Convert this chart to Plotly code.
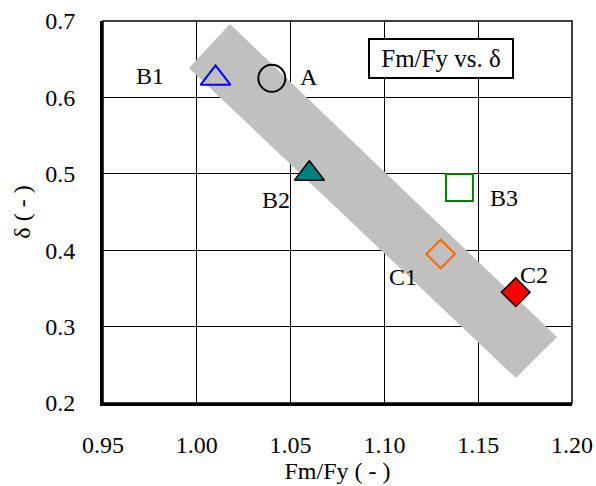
import plotly.graph_objects as go

# Data
names = ["B1", "A", "B2", "B3", "C1", "C2"]
fm_fy = [1.01, 1.04, 1.06, 1.14, 1.13, 1.17]
delta = [0.625, 0.625, 0.50, 0.482, 0.395, 0.345]
symbols = ["triangle-up-open", "circle-open", "triangle-up", "square-open", "diamond-open", "diamond"]
fill_colors = ["#0000FF", "#000000", "#008080", "#008000", "#FF6600", "#FF0000"]
line_colors = ["#0000FF", "#000000", "#000000", "#008000", "#FF6600", "#000000"]
sizes = [26, 27, 26, 27, 22, 22]

# label positions
label_x = [0.975, 1.060, 1.042, 1.164, 1.110, 1.180]
label_y = [0.628, 0.627, 0.466, 0.468, 0.365, 0.367]

# gray trend band corners
band_x = [0.9958, 1.0177, 1.192, 1.1701, 0.9958]
band_y = [0.6385, 0.696, 0.2864, 0.2327, 0.6385]

x_ticks = [0.95, 1.00, 1.05, 1.10, 1.15, 1.20]
y_ticks = [0.2, 0.3, 0.4, 0.5, 0.6, 0.7]

FONT = "Liberation Serif, Times New Roman, serif"
FS = 24

fig = go.Figure()
fig.add_trace(go.Scatter(x=band_x, y=band_y, mode="lines", fill="toself",
                         fillcolor="#C0C0C0", line=dict(width=0), hoverinfo="skip",
                         showlegend=False))
for i in range(len(names)):
    fig.add_trace(go.Scatter(
        x=[fm_fy[i]], y=[delta[i]], mode="markers", showlegend=False,
        marker=dict(symbol=symbols[i], size=sizes[i], color=fill_colors[i],
                    line=dict(color=line_colors[i], width=2 if "open" in symbols[i] else 1.5))))
    fig.add_annotation(x=label_x[i], y=label_y[i], text=names[i], showarrow=False,
                       font=dict(family=FONT, size=FS, color="black"))

fig.add_annotation(x=0.72, y=0.903, xref="paper", yref="paper", xanchor="center", yanchor="middle",
                   text="&nbsp;Fm/Fy vs. δ&nbsp;",
                   showarrow=False, font=dict(family=FONT, size=25, color="black"),
                   bordercolor="black", borderwidth=2, borderpad=5, bgcolor="white")

fig.add_shape(type="rect", xref="paper", yref="paper", x0=0, y0=0, x1=1, y1=1,
              line=dict(color="black", width=1.5), layer="above")

fig.update_xaxes(range=[0.95, 1.20], tickvals=x_ticks, ticktext=[f"{v:.2f}" for v in x_ticks],
                 showgrid=True, gridcolor="black", gridwidth=1, zeroline=False,
                 showline=True, linecolor="black", linewidth=3, automargin=False,
                 ticks="inside", ticklen=5, tickcolor="black", ticklabelstandoff=18,
                 tickfont=dict(family=FONT, size=FS, color="black"),
                 title=dict(text="Fm/Fy ( - )", font=dict(family=FONT, size=FS, color="black"), standoff=4))
fig.update_yaxes(range=[0.2, 0.7], tickvals=y_ticks, ticktext=[f"{v:.1f}" for v in y_ticks],
                 showgrid=True, gridcolor="black", gridwidth=1.3, zeroline=False,
                 showline=True, linecolor="black", linewidth=3, automargin=False,
                 ticks="inside", ticklen=5, tickcolor="black", ticklabelstandoff=20,
                 tickfont=dict(family=FONT, size=FS, color="black"),
                 title=dict(text="δ ( - )", font=dict(family=FONT, size=FS, color="black"), standoff=8))

fig.update_layout(width=596, height=486, margin=dict(l=103, r=24, t=21, b=83),
                  plot_bgcolor="white", paper_bgcolor="white")

fig.write_html("out.html", config={"displayModeBar": False},
               post_script="document.body.style.margin='0px';")
